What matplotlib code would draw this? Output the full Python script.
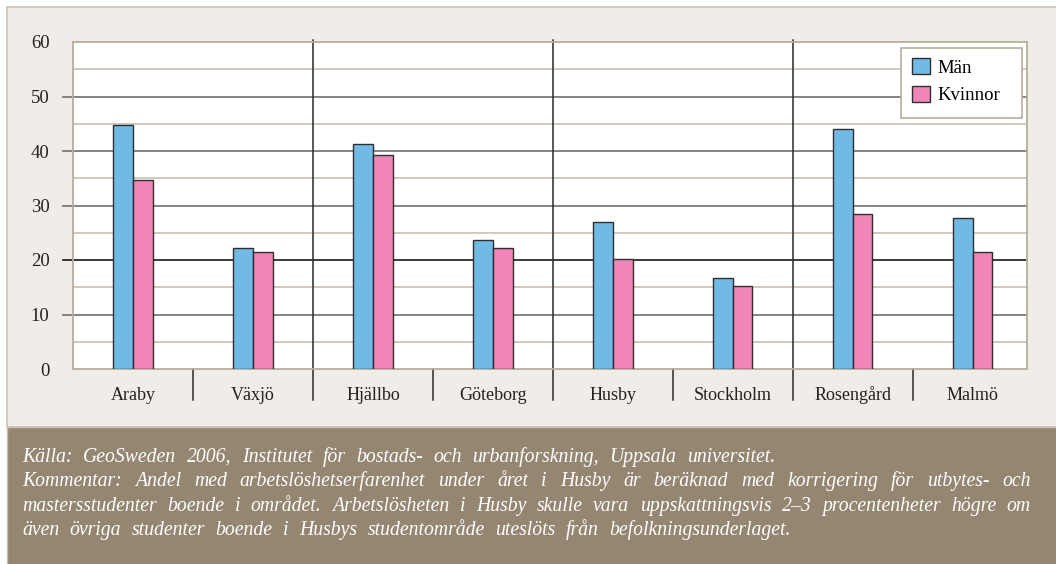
import matplotlib
matplotlib.use("Agg")
import matplotlib.pyplot as plt
from matplotlib.patches import Rectangle
import numpy as np

# andel med arbetslöshetserfarenhet (%), män och kvinnor per område
omraden = ["Araby", "Växjö", "Hjällbo", "Göteborg", "Husby", "Stockholm", "Rosengård", "Malmö"]
man = [44.8, 22.2, 41.3, 23.6, 27.0, 16.7, 44.1, 27.7]
kvinnor = [34.6, 21.5, 39.2, 22.2, 20.1, 15.3, 28.4, 21.5]
yticks = [0, 10, 20, 30, 40, 50, 60]

kalla = "Källa: GeoSweden 2006, Institutet för bostads- och urbanforskning, Uppsala universitet."
kommentar = [
    "Kommentar: Andel med arbetslöshetserfarenhet under året i Husby är beräknad med korrigering för utbytes- och",
    "mastersstudenter boende i området. Arbetslösheten i Husby skulle vara uppskattningsvis 2–3 procentenheter högre om",
    "även övriga studenter boende i Husbys studentområde uteslöts från befolkningsunderlaget.",
]

BLA = "#72bae6"
ROSA = "#f086b7"
BEIGE = "#f0ece7"
RAM = "#b8ad9c"
BRUN = "#948671"

W, H = 1056, 564
fig = plt.figure(figsize=(W / 100, H / 100), dpi=100)
fig.patch.set_facecolor("white")
plt.rcParams["font.family"] = ["Liberation Serif", "DejaVu Serif"]


def px(x0, y0):
    # pixelposition (från övre vänstra hörnet) till figurkoordinater
    return x0 / W, 1 - y0 / H


# bakgrundspanel och brun fotnotsruta
fig.add_artist(Rectangle((7 / W, 1 - 427 / H), 1, 420 / H, transform=fig.transFigure,
                         facecolor=BEIGE, edgecolor="#c9c1b5", lw=1.2, zorder=0))
fig.add_artist(Rectangle((7 / W, -0.01), 1, 1 - 427 / H + 0.01, transform=fig.transFigure,
                         facecolor=BRUN, edgecolor="#c9c1b5", lw=1.0, zorder=0))

ax = fig.add_axes([73 / W, 1 - 369 / H, (1026.7 - 73) / W, (369 - 42) / H])
ax.set_facecolor("white")

x = np.arange(len(omraden))
bw = 0.165
ax.bar(x - bw / 2, man, bw, color=BLA, edgecolor="#2e2e2e", lw=1.0, label="Män", zorder=3)
ax.bar(x + bw / 2, kvinnor, bw, color=ROSA, edgecolor="#2e2e2e", lw=1.0, label="Kvinnor", zorder=3)

ax.set_xlim(-0.502, 7.452)
ax.set_ylim(0, 60)

# stödlinjer: tunna beige vid 5, 15 ... och grå vid varje tiotal (med streck utanför axeln)
for y in [5, 15, 25, 35, 45, 55]:
    ax.axhline(y, color="#cdc4b6", lw=1.3, zorder=1)
for y in [10, 20, 30, 40, 50]:
    c = "#2a2a2a" if y == 20 else "#7a7a7a"
    ax.axhline(y, xmin=-10 / 953, xmax=1, color=c, lw=1.3, zorder=1, clip_on=False)

# avdelare mellan städerna
for xs in [1.5, 3.5, 5.5]:
    ax.plot([xs, xs], [-0.095, 1.005], transform=ax.get_xaxis_transform(),
            color="#2a2a2a", lw=1.1, clip_on=False, zorder=2)
for xs in [0.5, 2.5, 4.5, 6.5]:
    ax.plot([xs, xs], [-0.095, 0], transform=ax.get_xaxis_transform(),
            color="#2a2a2a", lw=1.1, clip_on=False, zorder=2)

for s in ax.spines.values():
    s.set_color(RAM)
    s.set_linewidth(1.3)

ax.set_yticks(yticks)
ax.set_yticklabels([str(v) for v in yticks], fontsize=13.5, color="#222222")
ax.tick_params(axis="y", length=0, pad=17)
ax.set_xticks(x)
ax.set_xticklabels(omraden, fontsize=13, color="#222222", va="baseline")
ax.tick_params(axis="x", length=0, pad=22.3)

# förklaring utan egen ram, ramen ritas separat
leg = ax.legend(loc="upper left", bbox_to_anchor=px(912, 58), bbox_transform=fig.transFigure,
                fontsize=13.5, frameon=False, handlelength=0.95, handleheight=0.95,
                handletextpad=0.4, borderpad=0, labelspacing=0.5, borderaxespad=0)
leg.set_zorder(6)
ram = Rectangle(px(900.7, 117.7), 121 / W, 69.7 / H, transform=fig.transFigure,
                facecolor="white", edgecolor=RAM, lw=1.2, zorder=5, clip_on=False)
ax.add_patch(ram)

# fotnot: rad 1 och 4 med fast ordavstånd, rad 2-3 marginaljusterade
renderer = fig.canvas.get_renderer()
vx0, vx1 = 22, 1031
baslinjer = [462, 486, 511, 535]
fs = 14.2
mellanrum = 10.5
fot = dict(fontsize=fs, style="italic", color="white", va="baseline")

rader = [kalla] + kommentar
for i, rad in enumerate(rader):
    y = 1 - baslinjer[i] / H
    ord_ = rad.split(" ")
    texter = [fig.text(0, y, o, **fot) for o in ord_]
    bredd = [t.get_window_extent(renderer).width for t in texter]
    if i in (1, 2):
        gap = (vx1 - vx0 - sum(bredd)) / (len(ord_) - 1)
    else:
        gap = mellanrum
    pos = vx0
    for t, b in zip(texter, bredd):
        t.set_x(pos / W)
        pos += b + gap

fig.savefig("out.png", dpi=100)
